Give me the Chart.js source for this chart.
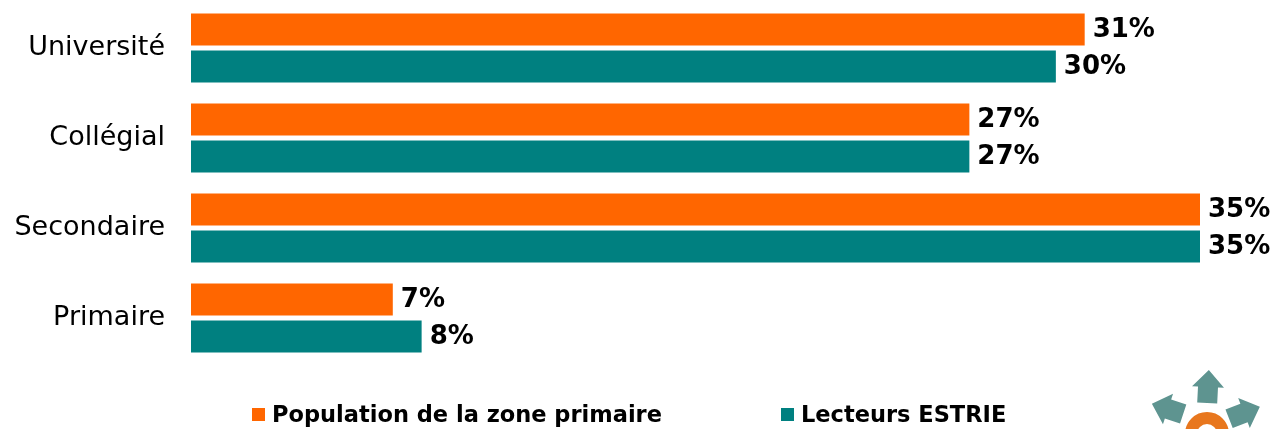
<!DOCTYPE html>
<html lang="fr">
<head>
    <meta charset="UTF-8">
    <title>Scolarité</title>
    <script src="https://cdn.jsdelivr.net/npm/chart.js"></script>
    <style>
        body { margin: 0; background: #fff; }
        #wrap { width: 1274px; height: 429px; position: relative; }
    </style>
</head>
<body>
    <div id="wrap"><canvas id="chart"></canvas></div>

    <script>
        const categories = ['Université', 'Collégial', 'Secondaire', 'Primaire'];
        const population = [31, 27, 35, 7];
        const lecteurs = [30, 27, 35, 8];
        const seriesNames = ['Population de la zone primaire', 'Lecteurs ESTRIE'];

        const ORANGE = '#FF6600';
        const TEAL = '#008080';
        const FONT = '"DejaVu Sans", Verdana, sans-serif';

        // value labels at the end of each bar
        const valueLabels = {
            id: 'valueLabels',
            afterDatasetsDraw(chart) {
                const ctx = chart.ctx;
                ctx.save();
                ctx.font = 'bold 26px ' + FONT;
                ctx.fillStyle = '#000';
                ctx.textBaseline = 'middle';
                ctx.textAlign = 'left';
                chart.data.datasets.forEach((ds, i) => {
                    chart.getDatasetMeta(i).data.forEach((bar, j) => {
                        ctx.fillText(ds.data[j] + '%', bar.x + 8, bar.y + 1);
                    });
                });
                ctx.restore();
            }
        };

        // legend drawn under the plot, two widely spaced items
        const bottomLegend = {
            id: 'bottomLegend',
            afterDraw(chart) {
                const ctx = chart.ctx;
                const starts = [252, 781];
                const y = 415;
                ctx.save();
                ctx.font = 'bold 22.5px ' + FONT;
                ctx.textBaseline = 'middle';
                chart.data.datasets.forEach((ds, i) => {
                    ctx.fillStyle = ds.backgroundColor;
                    ctx.fillRect(starts[i], y - 7, 13, 13);
                    ctx.fillStyle = '#000';
                    ctx.fillText(ds.label, starts[i] + 20, y + 1);
                });
                ctx.restore();
            }
        };

        // little logo in the bottom-right corner
        const logo = {
            id: 'logo',
            afterDraw(chart) {
                const ctx = chart.ctx;
                ctx.save();
                ctx.strokeStyle = '#E8771E';
                ctx.lineWidth = 12;
                ctx.beginPath();
                ctx.arc(1207, 434, 16, 0, Math.PI * 2);
                ctx.stroke();
                ctx.fillStyle = '#5E9490';
                const house = (cx, cy, rot) => {
                    ctx.save();
                    ctx.translate(cx, cy);
                    ctx.rotate(rot);
                    ctx.beginPath();
                    ctx.moveTo(-10, 16);
                    ctx.lineTo(10, 16);
                    ctx.lineTo(10, 0);
                    ctx.lineTo(16, 0);
                    ctx.lineTo(0, -17);
                    ctx.lineTo(-16, 0);
                    ctx.lineTo(-10, 0);
                    ctx.closePath();
                    ctx.fill();
                    ctx.restore();
                };
                house(1208, 387, 0.05);
                house(1168, 409, -1.25);
                house(1244, 413, 1.2);
                ctx.restore();
            }
        };

        new Chart(document.getElementById('chart'), {
            type: 'bar',
            data: {
                labels: categories,
                datasets: [
                    { label: seriesNames[0], data: population, backgroundColor: ORANGE },
                    { label: seriesNames[1], data: lecteurs, backgroundColor: TEAL }
                ]
            },
            options: {
                indexAxis: 'y',
                responsive: true,
                maintainAspectRatio: false,
                animation: false,
                categoryPercentage: 0.82,
                barPercentage: 0.865,
                layout: { padding: { top: 3, right: 74, left: 0, bottom: 66 } },
                scales: {
                    x: {
                        display: false,
                        min: 0,
                        max: 35
                    },
                    y: {
                        grid: { display: false },
                        border: { display: false },
                        ticks: {
                            color: '#000',
                            font: { family: FONT, size: 27 },
                            padding: 18
                        },
                        afterFit(scale) {
                            scale.width = 191;
                            scale.paddingTop = 0;
                            scale.paddingBottom = 0;
                        }
                    }
                },
                plugins: {
                    legend: { display: false },
                    tooltip: { enabled: false }
                }
            },
            plugins: [valueLabels, bottomLegend, logo]
        });
    </script>
</body>
</html>
